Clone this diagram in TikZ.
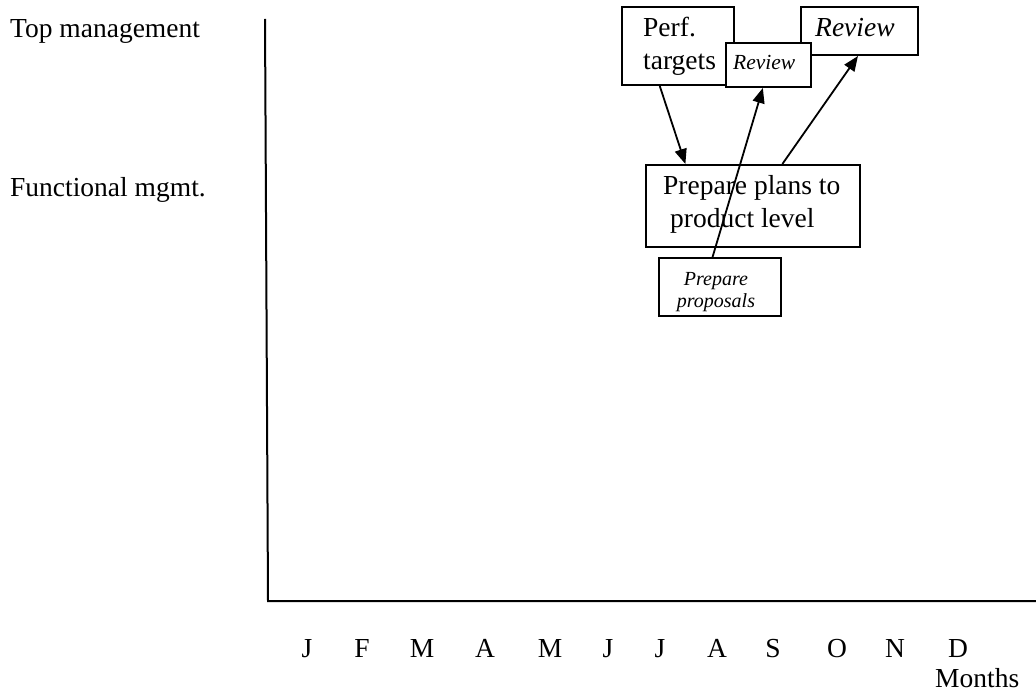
\documentclass[tikz,border=0pt]{standalone}
\usepackage{fontspec}
\setmainfont{Liberation Serif}
\usetikzlibrary{arrows.meta,calc}
\begin{document}
\begin{tikzpicture}[x=1pt,y=-1pt,
  big/.style={font=\fontsize{27.5}{33}\selectfont},
  small/.style={font=\fontsize{21.5}{24}\selectfont\itshape},
  txt/.style={inner sep=0pt,anchor=base west},
  ctxt/.style={inner sep=0pt,anchor=base},
  box/.style={draw,line width=2pt,fill=white,inner sep=0pt},
  axis/.style={line width=2pt},
  flow/.style={line width=1.8pt,-{Triangle[length=15pt,width=12pt]}}]
\useasboundingbox (0,0) rectangle (1036,695);

% row labels
\node[txt,big] (top) at (10,38) {Top management};
\node[txt,big] (func) at (10,197) {Functional mgmt.};

% axes
\coordinate (ytop) at (265,19);
\coordinate (orig) at (268,601);
\coordinate (xend) at (1036,601);
\draw[axis] (ytop) -- (orig) -- (xend);

% month letters
\foreach \m/\x [count=\i] in {J/307,F/362,M/422,A/485,M/550,J/608,J/660,A/717,S/773,O/837,N/895,D/958}
  \node[ctxt,big] (m\i) at (\x,657) {\m};
\node[txt,big] (months) at (935,687) {Months};

% boxes
\node[box,minimum width=112pt,minimum height=78pt] (perf) at (678,46) {};
\node[txt,big] (perf1) at (643,37) {Perf.};
\node[txt,big] (perf2) at (643,70) {targets};

\node[box,minimum width=117pt,minimum height=48pt] (rev2) at (859.5,31) {};
\node[txt,font=\fontsize{27.5}{33}\selectfont\itshape] (rev2t) at (815,37) {Review};

\node[box,minimum width=85pt,minimum height=44pt] (rev1) at (768.5,65) {};
\node[txt,small] (rev1t) at (733,70) {Review};

\node[box,minimum width=214pt,minimum height=82pt] (plans) at (753,206) {};
\node[txt,big] (plans1) at (663,195) {Prepare plans to};
\node[txt,big] (plans2) at (670,228) {product level};

\node[box,minimum width=122pt,minimum height=58pt] (prop) at (720,287) {};
\node[ctxt,font=\fontsize{20}{24}\selectfont\itshape] (prop1) at (716,285) {Prepare};
\node[ctxt,font=\fontsize{20}{24}\selectfont\itshape] (prop2) at (716,307) {proposals};

% connectors
\draw[flow] ($(perf.south west)!0.34!(perf.south east)$) -- ($(plans.north west)!0.187!(plans.north east)$);
\draw[flow] ($(prop.north west)!0.44!(prop.north east)$) -- ($(rev1.south west)!0.435!(rev1.south east)$);
\draw[flow] ($(plans.north west)!0.636!(plans.north east)$) -- ($(rev2.south west)!0.487!(rev2.south east)$);
\end{tikzpicture}
\end{document}
